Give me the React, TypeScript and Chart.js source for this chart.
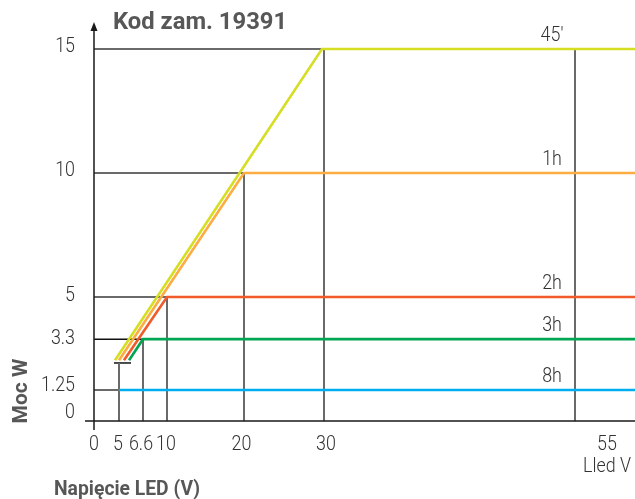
import React, { useEffect, useRef } from "react";
import { Chart, registerables } from "chart.js";

Chart.register(...registerables);

// ---- data ----
const TITLE = "Kod zam. 19391";
const Y_TITLE = "Moc W";
const X_TITLE = "Napięcie LED (V)";
const X_UNIT = "Lled V";

const X_TICKS = [0, 5, 6.6, 10, 20, 30, 55];
const Y_TICKS = [0, 1.25, 3.3, 5, 10, 15];

const SERIES_NAMES = ["45′", "1h", "2h", "3h", "8h"];
const S45_V = [4.2, 29.75, 61];
const S45_W = [2.45, 15, 15];
const S1H_V = [5, 20, 61];
const S1H_W = [2.45, 10, 10];
const S2H_V = [5.33, 10, 61];
const S2H_W = [2.45, 5, 5];
const S3H_V = [5.67, 6.6, 61];
const S3H_W = [2.45, 3.3, 3.3];
const S8H_V = [5, 61];
const S8H_W = [1.25, 1.25];

// reference lines: [power, voltage reached]
const H_GUIDES = [
  [15, 29.75],
  [10, 20],
  [5, 10],
  [1.25, 5],
];
// vertical drop lines: [voltage, power reached]
const V_GUIDES = [
  [5, 2.34],
  [6.6, 3.3],
  [10, 5],
  [20, 10],
  [30, 15],
  [55, 15],
];
const MIN_BAR_W = 2.34;
const MIN_BAR_V = [4.0, 5.8];

// non-linear (schematic) voltage axis: knots
const X_KNOT_V = [0, 5, 6.6, 10, 20, 30, 55, 61];
const X_KNOT_POS = [0, 25, 49, 73, 150, 230, 481, 541];

const COLORS = ["#d6de23", "#fbad42", "#f15a2b", "#00a651", "#00aeef"];
const GUIDE = "#6a6a6a";
const TEXT = "#333333";
const TITLE_C = "#575757";
const X_LABEL_SHIFT = [0, -1, -2, -1, -2.5, 2, 32];
const Y_LABEL_SHIFT = [-8, -4, 0, -1, -2, -2];

function toPos(v: number): number {
  for (let i = 0; i < X_KNOT_V.length - 1; i++) {
    const a = X_KNOT_V[i], b = X_KNOT_V[i + 1];
    if (v <= b || i === X_KNOT_V.length - 2) {
      const t = (v - a) / (b - a);
      return X_KNOT_POS[i] + t * (X_KNOT_POS[i + 1] - X_KNOT_POS[i]);
    }
  }
  return 0;
}

function pts(vs: number[], ws: number[]) {
  return vs.map((v, i) => ({ x: toPos(v), y: ws[i] }));
}

function text(ctx: any, s: string, x: number, y: number, font: string, align: string, sx: number, rot = 0) {
  ctx.save();
  ctx.translate(x, y);
  if (rot) ctx.rotate(rot);
  ctx.scale(sx, 1);
  ctx.font = font;
  ctx.textAlign = align;
  ctx.fillText(s, 0, 0);
  ctx.restore();
}

export default function App() {
  const ref = useRef<HTMLCanvasElement | null>(null);

  useEffect(() => {
    if (!ref.current) return;
    const seriesV = [S45_V, S1H_V, S2H_V, S3H_V, S8H_V];
    const seriesW = [S45_W, S1H_W, S2H_W, S3H_W, S8H_W];

    const guideSets: any[] = [];
    H_GUIDES.forEach(([w, v]) =>
      guideSets.push({ data: pts([0, v], [w, w]), borderColor: GUIDE, borderWidth: 2, order: 10, clip: false })
    );
    V_GUIDES.forEach(([v, w]) =>
      guideSets.push({ data: pts([v, v], [0, w]), borderColor: GUIDE, borderWidth: 2, order: 10, clip: false })
    );
    guideSets.push({ data: pts([0, 6.6], [3.3, 3.3]), borderColor: "#111", borderWidth: 1.5, order: 10, clip: false });
    guideSets.push({ data: pts(MIN_BAR_V, [MIN_BAR_W, MIN_BAR_W]), borderColor: "#111", borderWidth: 1.5, order: 10, clip: false });

    const seriesSets = SERIES_NAMES.map((name, i) => ({
      label: name,
      data: pts(seriesV[i], seriesW[i]),
      borderColor: COLORS[i],
      borderWidth: 2.6,
      order: i,
      clip: false,
    }));

    const TICK_FONT = "300 21px Roboto, sans-serif";
    const decor = {
      id: "decor",
      afterDatasetsDraw(chart: any) {
        const ctx = chart.ctx;
        const xs = chart.scales.x;
        const ys = chart.scales.y;
        const ca = chart.chartArea;
        ctx.save();
        // axes
        ctx.strokeStyle = "#1a1a1a";
        ctx.lineWidth = 1.5;
        ctx.beginPath();
        ctx.moveTo(ca.left - 9, ca.bottom);
        ctx.lineTo(ca.right, ca.bottom);
        ctx.moveTo(ca.left, ca.bottom + 9);
        ctx.lineTo(ca.left, ca.top - 20);
        ctx.stroke();
        ctx.fillStyle = "#1a1a1a";
        ctx.beginPath();
        ctx.moveTo(ca.left, ca.top - 27);
        ctx.lineTo(ca.left - 3.5, ca.top - 18);
        ctx.lineTo(ca.left + 3.5, ca.top - 18);
        ctx.closePath();
        ctx.fill();

        ctx.fillStyle = TEXT;
        ctx.textBaseline = "middle";
        // y tick labels
        Y_TICKS.forEach((v, i) => {
          text(ctx, String(v), ca.left - 19, ys.getPixelForValue(v) + Y_LABEL_SHIFT[i], TICK_FONT, "right", 0.85);
        });
        // x tick labels
        X_TICKS.forEach((v, i) => {
          const px = xs.getPixelForValue(toPos(v)) + X_LABEL_SHIFT[i];
          text(ctx, String(v), px, ca.bottom + 24, TICK_FONT, "center", 0.85);
          if (i === X_TICKS.length - 1) text(ctx, X_UNIT, px, ca.bottom + 46, TICK_FONT, "center", 0.85);
        });

        // series names
        const nameX = xs.getPixelForValue(toPos(55)) - 23;
        SERIES_NAMES.forEach((n, i) => {
          const w = seriesW[i][seriesW[i].length - 1];
          text(ctx, n, nameX, ys.getPixelForValue(w) - 13, TICK_FONT, "center", 0.85);
        });

        // titles
        ctx.fillStyle = TITLE_C;
        ctx.textBaseline = "alphabetic";
        text(ctx, TITLE, 113, 29, "bold 23px Roboto, sans-serif", "left", 1.035);
        text(ctx, X_TITLE, 127, 495, "bold 21px Roboto, sans-serif", "center", 0.92);
        text(ctx, Y_TITLE, 27, 391, "bold 21px Roboto, sans-serif", "center", 1, -Math.PI / 2);
        ctx.restore();
      },
    };

    const chart = new Chart(ref.current, {
      type: "line",
      data: { datasets: [...seriesSets, ...guideSets] as any },
      options: {
        animation: false,
        responsive: false,
        events: [],
        layout: { padding: { top: 49, left: 0, right: 0, bottom: 0 } },
        elements: { point: { radius: 0 }, line: { tension: 0, borderCapStyle: "butt" } },
        plugins: { legend: { display: false }, tooltip: { enabled: false } },
        scales: {
          x: {
            type: "linear",
            min: 0,
            max: X_KNOT_POS[X_KNOT_POS.length - 1],
            grid: { display: false, drawTicks: false },
            border: { display: false },
            ticks: { display: false },
            afterFit: (s: any) => {
              s.height = 78;
            },
          },
          y: {
            type: "linear",
            min: 0,
            max: 15,
            grid: { display: false, drawTicks: false },
            border: { display: false },
            afterBuildTicks: (s: any) => {
              s.ticks = Y_TICKS.map((v) => ({ value: v }));
            },
            ticks: { display: false },
            afterFit: (s: any) => {
              s.width = 94;
            },
          },
        },
      },
      plugins: [decor],
    });
    return () => chart.destroy();
  }, []);

  return (
    <div style={{ position: "absolute", left: 0, top: 0, width: 635, height: 499, background: "#fff" }}>
      <canvas ref={ref} width={635} height={499} />
    </div>
  );
}
